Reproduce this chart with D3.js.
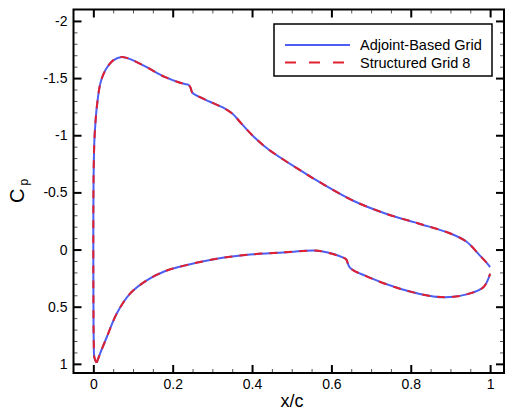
<!DOCTYPE html>
<html>
<head>
<meta charset="utf-8">
<script src="https://cdn.jsdelivr.net/npm/d3@7/dist/d3.min.js"></script>
<style>
  html, body { margin: 0; padding: 0; background: #fff; }
  svg { display: block; font-family: "Liberation Sans", Arial, Helvetica, sans-serif; }
</style>
</head>
<body>
<div id="chart"></div>
<script>
// upper surface, leading edge -> trailing edge
const upperX  = [0.0085, 0.003, 0.001, 0.0003, 0.0, 0.0, 0.0005, 0.0026, 0.0055, 0.0085, 0.017, 0.025, 0.034, 0.05, 0.0716, 0.1, 0.1346, 0.18, 0.2186, 0.235, 0.2405, 0.245, 0.249, 0.256, 0.294, 0.325, 0.35, 0.375, 0.405, 0.44, 0.517, 0.5715, 0.655, 0.7396, 0.8236, 0.9, 0.94, 0.975, 0.99, 1.0];
const upperCp = [0.99, 0.95, 0.8, 0.5, 0.2, -0.2, -0.6, -0.95, -1.12, -1.24, -1.445, -1.53, -1.59, -1.655, -1.685, -1.655, -1.595, -1.51, -1.459, -1.445, -1.44, -1.415, -1.375, -1.355, -1.293, -1.245, -1.19, -1.095, -0.985, -0.88, -0.703, -0.587, -0.427, -0.311, -0.224, -0.14, -0.07, 0.055, 0.11, 0.154];
// lower surface, leading edge -> trailing edge
const lowerX  = [0.0085, 0.017, 0.034, 0.059, 0.0925, 0.1346, 0.18, 0.22, 0.311, 0.395, 0.479, 0.5546, 0.575, 0.63, 0.637, 0.647, 0.689, 0.773, 0.857, 0.899, 0.941, 0.983, 1.0];
const lowerCp = [0.99, 0.91, 0.765, 0.56, 0.386, 0.27, 0.19, 0.148, 0.081, 0.044, 0.025, 0.009, 0.015, 0.07, 0.085, 0.16, 0.235, 0.343, 0.41, 0.416, 0.392, 0.33, 0.212];

const xTicks = [0, 0.2, 0.4, 0.6, 0.8, 1];
const yTicks = [-2, -1.5, -1, -0.5, 0, 0.5, 1];
const seriesNames = ["Adjoint-Based Grid", "Structured Grid 8"];

const W = 506, H = 411;
const m = { left: 73.5, right: 504, top: 9.5, bottom: 373 };

const svg = d3.select("#chart").append("svg")
  .attr("width", W).attr("height", H);

const x = d3.scaleLinear().domain([-0.05, 1.035]).range([m.left, m.right]);
const y = d3.scaleLinear().domain([-2.1, 1.08]).range([m.top, m.bottom]);

const xMinor = d3.range(0, 1.0001, 0.05).filter(v => Math.abs(v * 5 - Math.round(v * 5)) > 1e-6);
const yMinor = d3.range(-2, 1.0001, 0.1).filter(v => Math.abs(v * 2 - Math.round(v * 2)) > 1e-6);

function styleAxis(g) {
  g.select(".domain").remove();
  g.selectAll(".tick line").attr("stroke", "#000").attr("stroke-width", 2);
  g.selectAll(".tick text").attr("fill", "#000").attr("font-size", 14);
}
function styleMinor(g) {
  g.select(".domain").remove();
  g.selectAll(".tick line").attr("stroke", "#555").attr("stroke-width", 1);
}

// bottom
svg.append("g").attr("transform", `translate(0,${m.bottom})`)
  .call(d3.axisBottom(x).tickValues(xMinor).tickSize(-4).tickFormat("")).call(styleMinor);
svg.append("g").attr("transform", `translate(0,${m.bottom})`)
  .call(d3.axisBottom(x).tickValues(xTicks).tickSize(-8).tickPadding(6).tickFormat(d => String(d))).call(styleAxis);
// top
svg.append("g").attr("transform", `translate(0,${m.top})`)
  .call(d3.axisTop(x).tickValues(xMinor).tickSize(-4).tickFormat("")).call(styleMinor);
svg.append("g").attr("transform", `translate(0,${m.top})`)
  .call(d3.axisTop(x).tickValues(xTicks).tickSize(-8).tickFormat("")).call(styleAxis);
// left
svg.append("g").attr("transform", `translate(${m.left},0)`)
  .call(d3.axisLeft(y).tickValues(yMinor).tickSize(-4).tickFormat("")).call(styleMinor);
svg.append("g").attr("transform", `translate(${m.left},0)`)
  .call(d3.axisLeft(y).tickValues(yTicks).tickSize(-8).tickPadding(6).tickFormat(d => String(d))).call(styleAxis);
// right
svg.append("g").attr("transform", `translate(${m.right},0)`)
  .call(d3.axisRight(y).tickValues(yMinor).tickSize(-4).tickFormat("")).call(styleMinor);
svg.append("g").attr("transform", `translate(${m.right},0)`)
  .call(d3.axisRight(y).tickValues(yTicks).tickSize(-8).tickFormat("")).call(styleAxis);

// frame
svg.append("rect")
  .attr("x", m.left).attr("y", m.top)
  .attr("width", m.right - m.left).attr("height", m.bottom - m.top)
  .attr("fill", "none").attr("stroke", "#000").attr("stroke-width", 2);

// curves
const line = d3.line()
  .x(d => x(d[0]))
  .y(d => y(d[1]))
  .curve(d3.curveCatmullRom.alpha(0.5));

const upper = upperX.map((v, i) => [v, upperCp[i]]);
const lower = lowerX.map((v, i) => [v, lowerCp[i]]);

[upper, lower].forEach(pts => {
  svg.append("path").datum(pts)
    .attr("fill", "none").attr("stroke", "#4d5ef0").attr("stroke-width", 2)
    .attr("d", line);
});
[upper, lower].forEach(pts => {
  svg.append("path").datum(pts)
    .attr("fill", "none").attr("stroke", "#e0202e").attr("stroke-width", 2)
    .attr("stroke-dasharray", "8,7")
    .attr("d", line);
});

// axis titles
svg.append("text")
  .attr("x", 292).attr("y", 407)
  .attr("text-anchor", "middle").attr("font-size", 18)
  .text("x/c");

const yl = svg.append("text")
  .attr("transform", "translate(24,203) rotate(-90)")
  .attr("text-anchor", "start").attr("font-size", 20);
yl.append("tspan").text("C");
yl.append("tspan").attr("font-size", 12).attr("dx", 3).attr("dy", 4).text("p");

// legend
const lg = svg.append("g");
lg.append("rect")
  .attr("x", 274).attr("y", 24).attr("width", 218).attr("height", 52)
  .attr("fill", "#fff").attr("stroke", "#000").attr("stroke-width", 1.5);
const legendY = [45, 62.5];
lg.append("line").attr("x1", 285).attr("x2", 350).attr("y1", legendY[0]).attr("y2", legendY[0])
  .attr("stroke", "#4d5ef0").attr("stroke-width", 2);
lg.append("line").attr("x1", 285).attr("x2", 350).attr("y1", legendY[1]).attr("y2", legendY[1])
  .attr("stroke", "#e0202e").attr("stroke-width", 2).attr("stroke-dasharray", "11,13");
seriesNames.forEach((name, i) => {
  lg.append("text")
    .attr("x", 360).attr("y", legendY[i]).attr("dy", "0.36em")
    .attr("font-size", 14.5)
    .text(name);
});
</script>
</body>
</html>
